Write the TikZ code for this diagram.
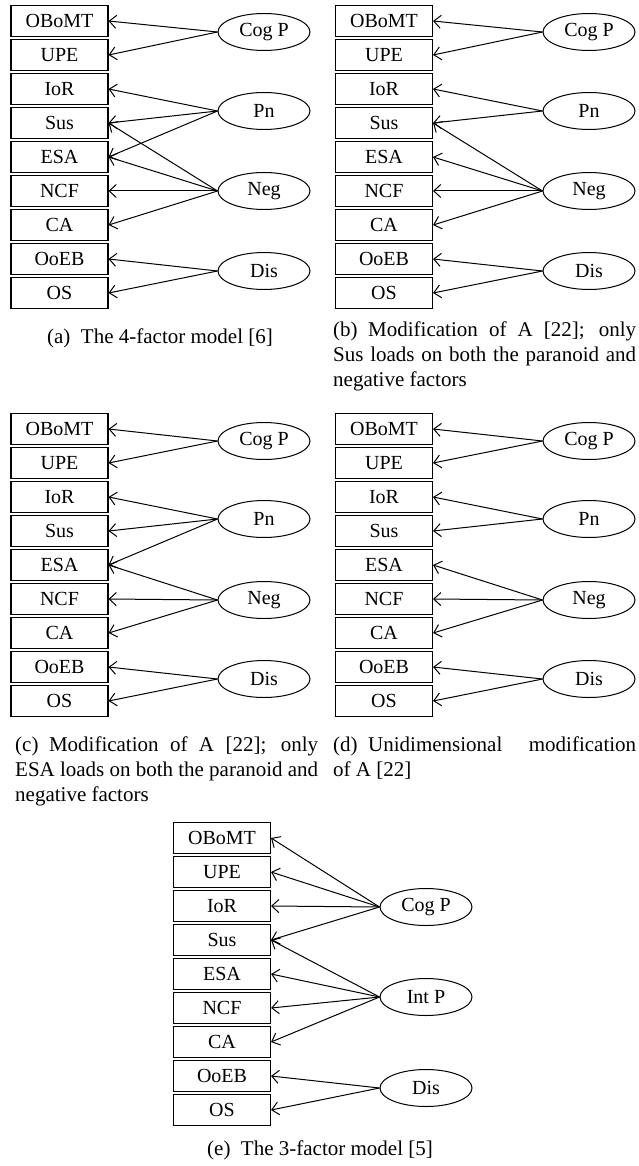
\documentclass[tikz,border=0pt]{standalone}
\usepackage{fontspec}
\setmainfont{Liberation Serif}
\usetikzlibrary{arrows.meta,shapes.geometric}
\begin{document}
\begin{tikzpicture}[x=1pt,y=-1pt,
  item/.style={draw,line width=1.1pt,minimum width=97pt,minimum height=31pt,inner sep=0pt,font=\fontsize{20}{24}\selectfont},
  factor/.style={draw,ellipse,line width=1pt,minimum width=92pt,minimum height=37pt,inner sep=0pt,font=\fontsize{20}{24}\selectfont},
  load/.style={line width=1pt,-{Straight Barb[length=7pt,width=13pt]}},
  capt/.style={inner sep=0pt,font=\fontsize{21}{25}\selectfont}]
\useasboundingbox (0,0) rectangle (638,1166);
% the nine items of every panel
\foreach \p/\x/\y in {a/59.5/21,b/384/21,c/59.5/429,d/384/429,e/222/838}
  \foreach \t [count=\i] in {OBoMT,UPE,IoR,Sus,ESA,NCF,CA,OoEB,OS}
    \node[item] (\p\i) at (\x,{\y+34*(\i-1)}) {\t};
% (a)
\node[factor] (aCog) at (264,32) {Cog P};
\node[factor] (aPn) at (264,111) {Pn};
\node[factor] (aNeg) at (264,191) {Neg};
\node[factor] (aDis) at (264,271) {Dis};
\foreach \j in {1,2} \draw[load] (aCog.west) -- (a\j.east);
\foreach \j in {3,4,5} \draw[load] (aPn.west) -- (a\j.east);
\foreach \j in {4,5,6,7} \draw[load] (aNeg.west) -- (a\j.east);
\foreach \j in {8,9} \draw[load] (aDis.west) -- (a\j.east);
\node[capt,anchor=base] (acap) at (160,343) {(a)\enspace The 4-factor model [6]};
% (b)
\node[factor] (bCog) at (589,32) {Cog P};
\node[factor] (bPn) at (589,111) {Pn};
\node[factor] (bNeg) at (589,191) {Neg};
\node[factor] (bDis) at (589,271) {Dis};
\foreach \j in {1,2} \draw[load] (bCog.west) -- (b\j.east);
\foreach \j in {3,4} \draw[load] (bPn.west) -- (b\j.east);
\foreach \j in {4,5,6,7} \draw[load] (bNeg.west) -- (b\j.east);
\foreach \j in {8,9} \draw[load] (bDis.west) -- (b\j.east);
\node[capt,text width=303pt,align=justify,anchor=north west] (bcap) at (333,322)
  {(b)\enspace Modification of A [22]; only\linebreak Sus loads on both the paranoid and\linebreak negative factors};
% (c)
\node[factor] (cCog) at (264,441) {Cog P};
\node[factor] (cPn) at (264,519) {Pn};
\node[factor] (cNeg) at (264,600) {Neg};
\node[factor] (cDis) at (264,679) {Dis};
\foreach \j in {1,2} \draw[load] (cCog.west) -- (c\j.east);
\foreach \j in {3,4,5} \draw[load] (cPn.west) -- (c\j.east);
\foreach \j in {5,6,7} \draw[load] (cNeg.west) -- (c\j.east);
\foreach \j in {8,9} \draw[load] (cDis.west) -- (c\j.east);
\node[capt,text width=303pt,align=justify,anchor=north west] (ccap) at (15,737)
  {(c)\enspace Modification of A [22]; only\linebreak ESA loads on both the paranoid and\linebreak negative factors};
% (d)
\node[factor] (dCog) at (589,441) {Cog P};
\node[factor] (dPn) at (589,519) {Pn};
\node[factor] (dNeg) at (589,600) {Neg};
\node[factor] (dDis) at (589,679) {Dis};
\foreach \j in {1,2} \draw[load] (dCog.west) -- (d\j.east);
\foreach \j in {3,4} \draw[load] (dPn.west) -- (d\j.east);
\foreach \j in {5,6,7} \draw[load] (dNeg.west) -- (d\j.east);
\foreach \j in {8,9} \draw[load] (dDis.west) -- (d\j.east);
\node[capt,text width=303pt,align=justify,anchor=north west] (dcap) at (333,737)
  {(d)\enspace Unidimensional modification\linebreak of A [22]};
% (e)
\node[factor] (eCog) at (426,907) {Cog P};
\node[factor] (eInt) at (426,997) {Int P};
\node[factor] (eDis) at (426,1088) {Dis};
\foreach \j in {1,2,3,4} \draw[load] (eCog.west) -- (e\j.east);
\foreach \j in {4,5,6,7} \draw[load] (eInt.west) -- (e\j.east);
\foreach \j in {8,9} \draw[load] (eDis.west) -- (e\j.east);
\node[capt,anchor=base] (ecap) at (320,1155) {(e)\enspace The 3-factor model [5]};
\end{tikzpicture}
\end{document}
